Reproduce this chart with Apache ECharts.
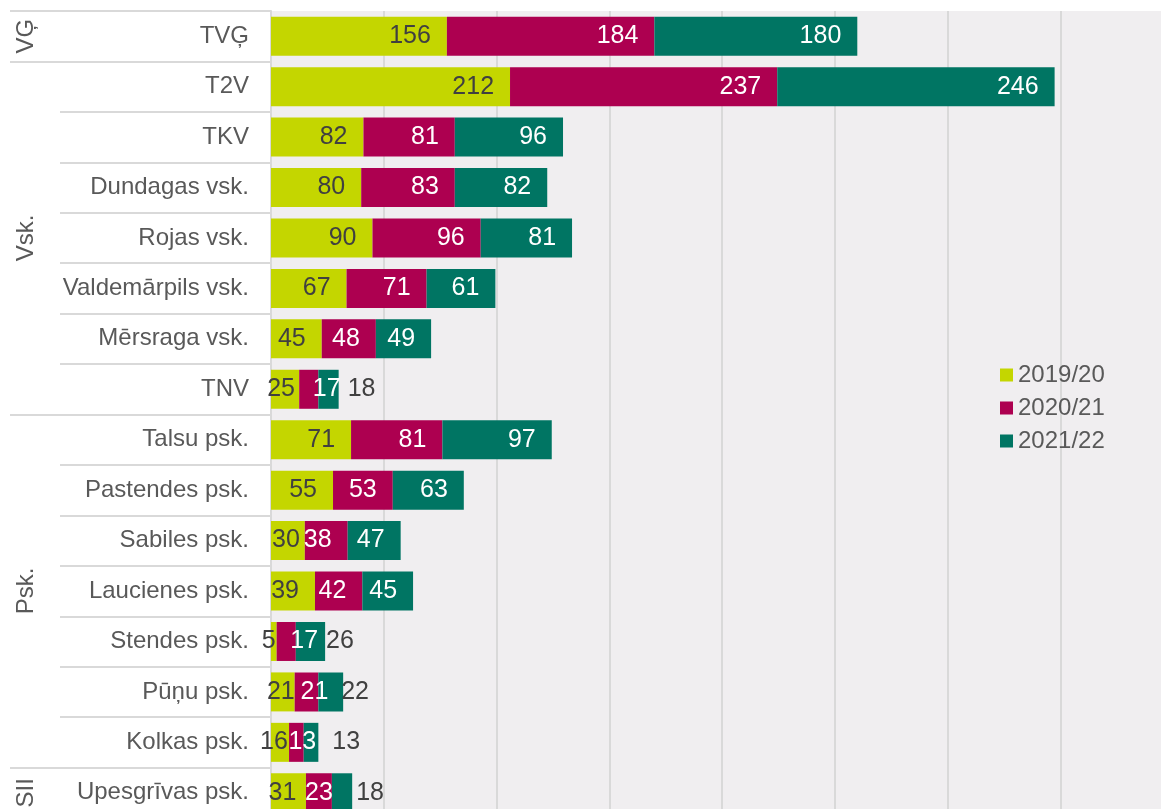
<!DOCTYPE html>
<html>
<head>
<meta charset="utf-8">
<title>Skolēnu skaits</title>
<script src="https://cdn.jsdelivr.net/npm/echarts@6/dist/echarts.min.js"></script>
<style>
    html, body { margin: 0; padding: 0; background: #fff; overflow: hidden; }
    /* zīmējuma laukums turpinās aiz loga malām, kā oriģinālā izgriezumā */
    #chart { width: 1173px; height: 818px; }
</style>
</head>
<body>
<div id="chart"></div>
<script>
//dati
var categories = ["TVĢ", "T2V", "TKV", "Dundagas vsk.", "Rojas vsk.", "Valdemārpils vsk.", "Mērsraga vsk.", "TNV",
    "Talsu psk.", "Pastendes psk.", "Sabiles psk.", "Laucienes psk.", "Stendes psk.", "Pūņu psk.", "Kolkas psk.", "Upesgrīvas psk."];
var groupNames = ["VĢ", "Vsk.", "Psk.", "SII"];
var groupSizes = [1, 7, 7, 1];
var seriesNames = ["2019/20", "2020/21", "2021/22"];
var values1920 = [156, 212, 82, 80, 90, 67, 45, 25, 71, 55, 30, 39, 5, 21, 16, 31];
var values2021 = [184, 237, 81, 83, 96, 71, 48, 17, 81, 53, 38, 42, 17, 21, 13, 23];
var values2122 = [180, 246, 96, 82, 81, 61, 49, 18, 97, 63, 47, 45, 26, 22, 13, 18];

var colors = ["#c4d600", "#ad0050", "#007563"];
var font = "Liberation Sans, Arial, sans-serif";
var darkText = "#404040";
var grayText = "#595959";
var lineColor = "#d9d9d9";

//mazo segmentu etiķetes (novietojums kā oriģinālā)
var labelFix = [
    { 7: [-4], 10: [-2], 12: [-5], 13: [-2], 14: [-6], 15: [-6] },
    { 7: [18], 12: [18], 13: [8], 14: [6], 15: [0] },
    { 7: 9, 12: 1, 13: -2, 14: 14, 15: 4 }
];

//grupu robežas un nosaukumi pa vidu
var groupStart = {};
var groupLabelAt = {};
var pos = 0;
for (var g = 0; g < groupNames.length; g++) {
    groupStart[pos] = true;
    groupLabelAt[pos + Math.floor(groupSizes[g] / 2)] = groupNames[g];
    pos += groupSizes[g];
}

function buildData(values, s) {
    return values.map(function(v, i) {
        var item = { value: v };
        var fix = labelFix[s][i];
        if (fix === undefined) return item;
        if (s < 2) {
            item.label = { position: "inside", offset: [fix[0], 0] };
        } else {
            item.label = { position: "right", distance: fix, color: darkText };
        }
        return item;
    });
}

var allValues = [values1920, values2021, values2122];
var series = allValues.map(function(vals, s) {
    return {
        name: seriesNames[s],
        type: "bar",
        stack: "total",
        barWidth: 39,
        itemStyle: { color: colors[s] },
        label: {
            show: true,
            position: "insideRight",
            distance: 16,
            fontFamily: font,
            fontSize: 25,
            color: s === 0 ? darkText : "#fff"
        },
        data: buildData(vals, s)
    };
});

var myChart = echarts.init(document.getElementById("chart"));
var option = {
    animation: false,
    backgroundColor: "#fff",
    textStyle: { fontFamily: font },
    grid: {
        show: true,
        backgroundColor: "#f0eef0",
        borderWidth: 0,
        left: 271,
        top: 11,
        right: 0,
        bottom: 0
    },
    legend: {
        orient: "vertical",
        left: 995,
        top: 358,
        icon: "rect",
        itemWidth: 13,
        itemHeight: 13,
        itemGap: 9,
        textStyle: { fontFamily: font, fontSize: 24, color: grayText },
        data: seriesNames
    },
    xAxis: {
        type: "value",
        min: 0,
        max: 800,
        interval: 100,
        axisLabel: { show: false },
        axisLine: { show: false },
        axisTick: { show: false },
        splitLine: { show: true, lineStyle: { color: lineColor, width: 2 } }
    },
    yAxis: [{
        type: "category",
        inverse: true,
        data: categories,
        axisLine: { show: true, lineStyle: { color: lineColor, width: 2 } },
        axisTick: { show: true, interval: 0, length: 211, lineStyle: { color: lineColor, width: 2 } },
        axisLabel: { interval: 0, margin: 22, fontFamily: font, fontSize: 24, color: grayText }
    }, {
        //grupu līmenis
        type: "category",
        inverse: true,
        position: "left",
        data: categories,
        axisLine: { show: false },
        axisTick: {
            show: true,
            length: 261,
            interval: function(index) { return !!groupStart[index]; },
            lineStyle: { color: lineColor, width: 2 }
        },
        axisLabel: {
            interval: 0,
            rotate: 90,
            margin: 245,
            align: "center",
            verticalAlign: "middle",
            fontFamily: font,
            fontSize: 24,
            color: grayText,
            formatter: function(value, index) { return groupLabelAt[index] || ""; }
        }
    }],
    series: series
};
myChart.setOption(option);
</script>
</body>
</html>
